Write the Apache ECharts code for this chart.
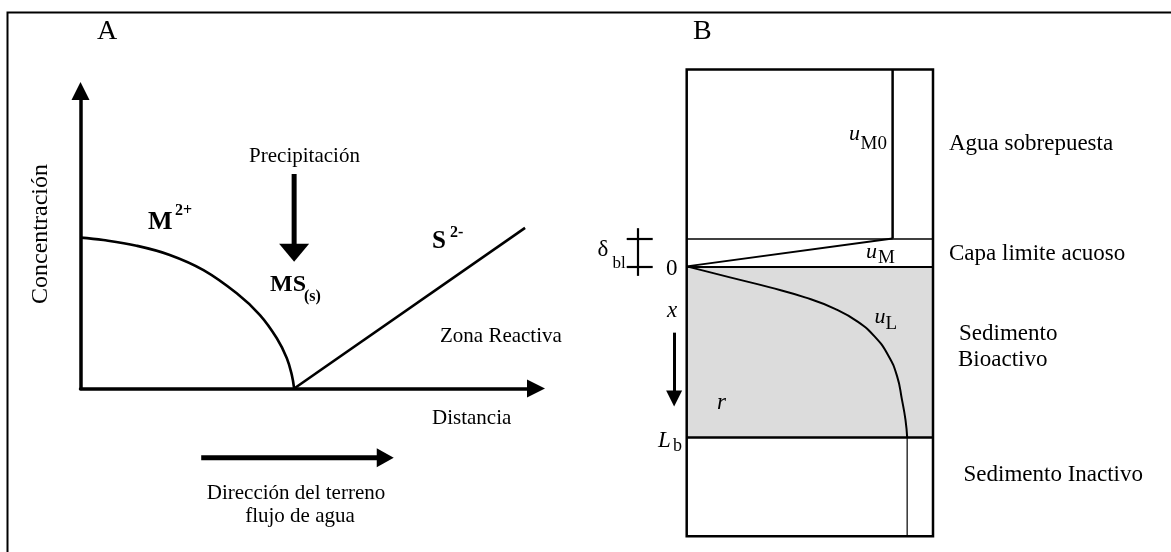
<!DOCTYPE html>
<html>
<head>
<meta charset="utf-8">
<script src="https://cdn.jsdelivr.net/npm/echarts@6/dist/echarts.min.js"></script>
<style>
html,body{margin:0;padding:0;background:#fff;}
#c{width:1171px;height:552px;}
</style>
</head>
<body>
<div id="c"></div>
<script>
// ---------- Panel A data (distance vs concentration, arbitrary units) ----------
const mCurve = [[0,5.07],[0.50,4.99],[1.23,4.80],[1.96,4.49],[2.70,3.98],[3.43,3.20],[3.94,2.47],[4.31,1.69],[4.53,1.02],[4.64,0.45],[4.69,0]];
const sLine = [[4.69,0],[9.76,5.40]];
const precipArrow = [[4.69,7.21],[4.69,4.56]];
const flowArrow = [[2.65,-2.33],[6.69,-2.33]];

// ---------- Panel B data (relative concentration vs depth, Lb = 1) ----------
const layerBounds = [-0.1624, 0, 1];
const uM0Line = [[0.836,-1.15],[0.836,-0.1624]];
const uMLine = [[0.836,-0.1624],[0,0]];
const uLCurve = [[0,0],[0.1758,0.0643],[0.3382,0.1227],[0.4803,0.1811],[0.6021,0.2482],[0.6955,0.3242],[0.7645,0.4118],[0.8173,0.5169],[0.8538,0.6396],[0.8741,0.7798],[0.8883,0.8966],[0.8952,1.0]];
const uInactive = [[0.8952,1],[0.8952,1.576]];
const depthArrow = [[-0.051,0.387],[-0.051,0.772]];
const deltaBracket = [
  [[-0.2006,-0.223],[-0.2006,0.0555]],
  [[-0.2436,-0.1624],[-0.138,-0.1624]],
  [[-0.2436,0],[-0.138,0]]
];

const SERIF = '"Liberation Serif","Times New Roman",serif';
function txt(x, y, text, size, extra) {
  extra = extra || {};
  return {
    type: 'text', x: x, y: y, rotation: extra.rotation || 0, z: 20,
    style: {
      text: text,
      font: (extra.style || '') + ' ' + (extra.weight || 'normal') + ' ' + size + 'px ' + SERIF,
      fill: '#000',
      textAlign: extra.align || 'left',
      textVerticalAlign: 'middle'
    }
  };
}

const chart = echarts.init(document.getElementById('c'), null, {renderer: 'canvas'});

const hiddenAxis = {show: true, axisLine: {show: false}, axisTick: {show: false}, axisLabel: {show: false}, splitLine: {show: false}};
const arrowAxisLine = {show: true, lineStyle: {color: '#000', width: 3.5}, symbol: ['none', 'triangle'], symbolSize: [18, 18]};

function arrowSeries(pts, xi, w, head, rotate) {
  return {
    type: 'line', xAxisIndex: xi, yAxisIndex: xi, clip: false, silent: true,
    data: [{value: pts[0], symbol: 'none'}, {value: pts[1], symbol: 'triangle', symbolSize: head, symbolRotate: rotate, itemStyle: {color: '#000'}}],
    lineStyle: {color: '#000', width: w}, showSymbol: true, animation: false, z: 5
  };
}

const option = {
  backgroundColor: '#fff',
  animation: false,
  grid: [
    {left: 80.5, top: 91, width: 455.5, height: 297.5, containLabel: false, outerBoundsMode: 'none'},
    {left: 686.7, top: 69.4, width: 246.3, height: 466.9, containLabel: false, outerBoundsMode: 'none',
     show: true, borderColor: '#000', borderWidth: 2.5, backgroundColor: 'transparent', z: 6}
  ],
  xAxis: [
    Object.assign({}, hiddenAxis, {type: 'value', gridIndex: 0, min: 0, max: 10, axisLine: arrowAxisLine}),
    Object.assign({}, hiddenAxis, {type: 'value', gridIndex: 1, min: 0, max: 1})
  ],
  yAxis: [
    Object.assign({}, hiddenAxis, {type: 'value', gridIndex: 0, min: 0, max: 10, axisLine: arrowAxisLine}),
    Object.assign({}, hiddenAxis, {type: 'value', gridIndex: 1, min: -1.15, max: 1.576, inverse: true})
  ],
  series: [
    // Panel A
    {type: 'line', name: 'M2+', xAxisIndex: 0, yAxisIndex: 0, data: mCurve, smooth: 0.4, symbol: 'none',
     lineStyle: {color: '#000', width: 2.6}},
    {type: 'line', name: 'S2-', xAxisIndex: 0, yAxisIndex: 0, data: sLine, symbol: 'none',
     lineStyle: {color: '#000', width: 2.6}},
    arrowSeries(precipArrow, 0, 5, [30, 18], 180),
    arrowSeries(flowArrow, 0, 5, [19, 17], -90),
    // Panel B
    {type: 'line', xAxisIndex: 1, yAxisIndex: 1, data: [], z: 1, silent: true,
     markArea: {silent: true, itemStyle: {color: '#dcdcdc'}, data: [[{yAxis: layerBounds[1]}, {yAxis: layerBounds[2]}]]},
     markLine: {silent: true, symbol: 'none', label: {show: false},
       data: [
         {yAxis: layerBounds[0], lineStyle: {color: '#000', width: 1.6, type: 'solid'}},
         {yAxis: layerBounds[1], lineStyle: {color: '#000', width: 2.2, type: 'solid'}},
         {yAxis: layerBounds[2], lineStyle: {color: '#000', width: 2.5, type: 'solid'}}
       ]}},
    {type: 'line', xAxisIndex: 1, yAxisIndex: 1, data: uM0Line, symbol: 'none', lineStyle: {color: '#000', width: 2.5}, z: 3},
    {type: 'line', xAxisIndex: 1, yAxisIndex: 1, data: uMLine, symbol: 'none', lineStyle: {color: '#000', width: 2}, z: 3},
    {type: 'line', xAxisIndex: 1, yAxisIndex: 1, data: uLCurve, smooth: 0.5, symbol: 'none', lineStyle: {color: '#000', width: 2}, z: 3},
    {type: 'line', xAxisIndex: 1, yAxisIndex: 1, data: uInactive, symbol: 'none', lineStyle: {color: '#333', width: 1.5}, z: 3},
    {type: 'lines', coordinateSystem: 'cartesian2d', xAxisIndex: 1, yAxisIndex: 1, clip: false, silent: true,
     symbol: ['none', 'triangle'], symbolSize: 16, lineStyle: {color: '#000', width: 3, opacity: 1},
     itemStyle: {color: '#000'},
     data: [{coords: depthArrow}], z: 5},
    {type: 'lines', coordinateSystem: 'cartesian2d', xAxisIndex: 1, yAxisIndex: 1, clip: false, silent: true,
     symbol: 'none', lineStyle: {color: '#000', width: 2.2, opacity: 1},
     data: deltaBracket.map(c => ({coords: c})), z: 5}
  ],
  graphic: [
    {type: 'polyline', shape: {points: [[7.5, 552], [7.5, 12.5], [1171, 12.5]]}, style: {stroke: '#000', lineWidth: 2, fill: null}, z: 20},
    // Panel A texts
    txt(97, 32, 'A', 28),
    txt(41, 234, 'Concentración', 24, {rotation: Math.PI / 2, align: 'center'}),
    txt(304.5, 156, 'Precipitación', 21, {align: 'center'}),
    txt(148, 222, 'M', 26, {weight: 'bold'}),
    txt(175, 211, '2+', 16, {weight: 'bold'}),
    txt(432, 242, 'S', 25, {weight: 'bold'}),
    txt(450, 233, '2-', 16, {weight: 'bold'}),
    txt(270, 285, 'MS', 24, {weight: 'bold'}),
    txt(304, 297, '(s)', 16, {weight: 'bold'}),
    txt(440, 336, 'Zona Reactiva', 21),
    txt(432, 418, 'Distancia', 21),
    txt(296, 493, 'Dirección del terreno', 21, {align: 'center'}),
    txt(300, 516, 'flujo de agua', 21, {align: 'center'}),
    // Panel B texts
    txt(693, 32, 'B', 28),
    txt(949, 144, 'Agua sobrepuesta', 23),
    txt(949, 254, 'Capa limite acuoso', 23),
    txt(959, 334, 'Sedimento', 23),
    txt(958, 360, 'Bioactivo', 23),
    txt(963.5, 475, 'Sedimento Inactivo', 23),
    txt(849, 134, 'u', 22, {style: 'italic'}),
    txt(860.5, 144, 'M0', 19),
    txt(866, 252, 'u', 22, {style: 'italic'}),
    txt(878, 258.5, 'M', 19),
    txt(874.5, 317, 'u', 22, {style: 'italic'}),
    txt(885.5, 324, 'L', 19),
    txt(666, 268.5, '0', 23),
    txt(597.5, 250, 'δ', 23),
    txt(612.5, 263.5, 'bl', 17),
    txt(667, 311, 'x', 23, {style: 'italic'}),
    txt(717, 403, 'r', 23, {style: 'italic'}),
    txt(658, 441, 'L', 23, {style: 'italic'}),
    txt(673, 446.5, 'b', 18)
  ]
};
chart.setOption(option);
</script>
</body>
</html>
